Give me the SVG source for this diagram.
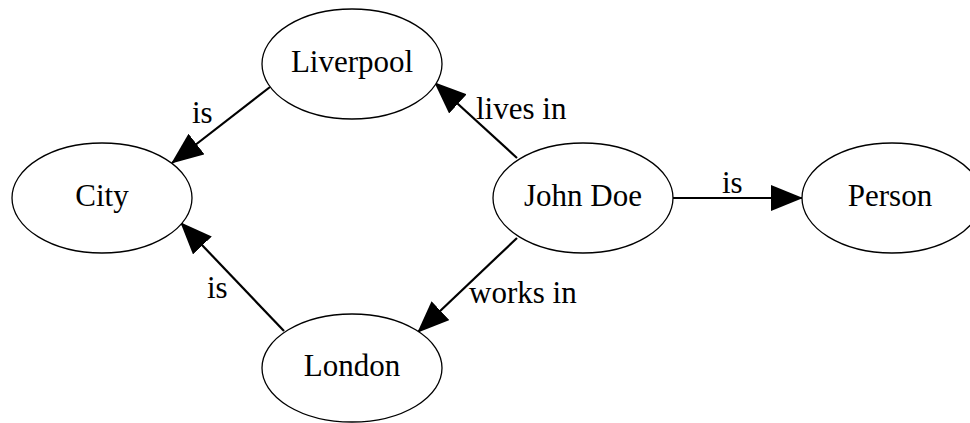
<svg xmlns="http://www.w3.org/2000/svg" width="970" height="423" viewBox="0 0 970 423">
<style>
  .node ellipse { fill: #fff; stroke: #000; stroke-width: 1.3; }
  .node text { font-family: "Liberation Serif", "Times New Roman", serif; font-size: 31px; text-anchor: middle; fill: #000; }
  .edge line { stroke: #000; stroke-width: 2.2; marker-end: url(#arrow); }
  .edge text { font-family: "Liberation Serif", "Times New Roman", serif; font-size: 31px; fill: #000; }
</style>
<defs>
  <marker id="arrow" viewBox="0 0 32 26" refX="31" refY="13" markerWidth="32" markerHeight="26" markerUnits="userSpaceOnUse" orient="auto">
    <path d="M0,0 L32,13 L0,26 z" fill="#000"/>
  </marker>
</defs>
<rect width="970" height="423" fill="#fff"/>
<g id="edges">
  <g class="edge" id="e-liverpool-city"><line x1="270" y1="87" x2="172" y2="163"/><text x="192" y="123">is</text></g>
  <g class="edge" id="e-london-city"><line x1="284" y1="331" x2="181" y2="223"/><text x="207" y="298">is</text></g>
  <g class="edge" id="e-john-liverpool"><line x1="517" y1="158" x2="435" y2="83"/><text x="476" y="119">lives in</text></g>
  <g class="edge" id="e-john-london"><line x1="517" y1="238" x2="418" y2="332"/><text x="469" y="303">works in</text></g>
  <g class="edge" id="e-john-person"><line x1="673" y1="198" x2="802" y2="198"/><text x="722" y="193">is</text></g>
</g>
<g class="node" id="n-liverpool"><ellipse cx="352" cy="64" rx="90" ry="55"/><text x="352" y="72">Liverpool</text></g>
<g class="node" id="n-city"><ellipse cx="102" cy="198" rx="90" ry="55"/><text x="102" y="206">City</text></g>
<g class="node" id="n-john"><ellipse cx="583" cy="198" rx="90" ry="55"/><text x="583" y="206">John Doe</text></g>
<g class="node" id="n-person"><ellipse cx="892" cy="198" rx="90" ry="55"/><text x="890" y="206">Person</text></g>
<g class="node" id="n-london"><ellipse cx="352" cy="368" rx="90" ry="54"/><text x="352" y="376">London</text></g>
</svg>
